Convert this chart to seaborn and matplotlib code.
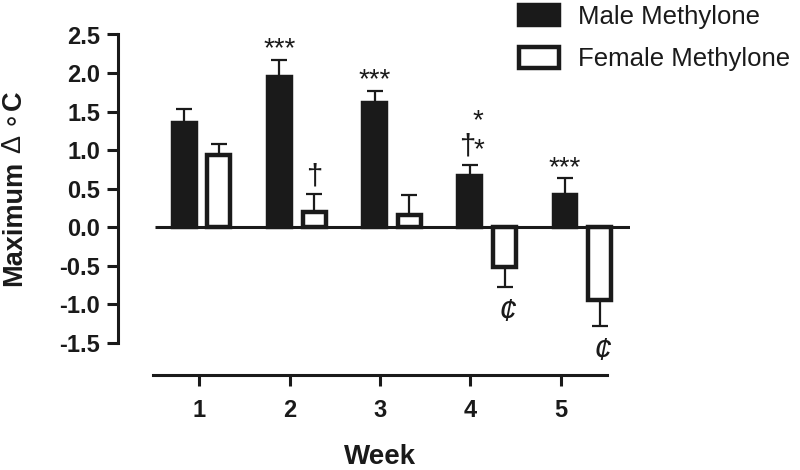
import numpy as np
import pandas as pd
import matplotlib
matplotlib.use("Agg")
import matplotlib.pyplot as plt
import seaborn as sns
from matplotlib.patches import Patch

weeks = ["1", "2", "3", "4", "5"]
groups = ["Male Methylone", "Female Methylone"]
male_mean = [1.35, 1.95, 1.61, 0.66, 0.42]
male_sem = [0.18, 0.22, 0.16, 0.15, 0.21]
female_mean = [0.94, 0.19, 0.16, -0.52, -0.95]
female_sem = [0.14, 0.24, 0.25, 0.26, 0.34]
# significance marks: (group, week index, text)
marks = [(0, 1, "***"), (0, 2, "***"), (0, 4, "***"),
         (1, 1, "\u2020"), (1, 3, "\u00a2"), (1, 4, "\u00a2")]

df = pd.DataFrame({
    "week": weeks * 2,
    "group": [groups[0]] * 5 + [groups[1]] * 5,
    "value": male_mean + female_mean,
})

sns.set_style("ticks")
plt.rcParams["font.family"] = ["Liberation Sans", "DejaVu Sans"]
ink = "#1a1a1a"

fig = plt.figure(figsize=(8, 4.7), dpi=100)
ax = fig.add_axes([118 / 800, 1 - 375 / 470, 512 / 800, 340.5 / 470])

lw = 3.2
sns.barplot(data=df, x="week", y="value", hue="group", hue_order=groups,
            palette={groups[0]: ink, groups[1]: "white"},
            edgecolor=ink, linewidth=lw, width=0.73, gap=0.34,
            errorbar=None, legend=False, ax=ax, zorder=3)

patches = ax.patches
sems = male_sem + female_sem
for p, e in zip(patches, sems):
    xc = p.get_x() + p.get_width() / 2
    h = p.get_y() + p.get_height()
    yerr = [[0], [e]] if h >= 0 else [[e], [0]]
    ax.errorbar([xc], [h], yerr=yerr, fmt="none", ecolor=ink,
                elinewidth=1.6, capsize=6, capthick=1.6, zorder=2)

for g, wi, txt in marks:
    p = patches[g * 5 + wi]
    xc = p.get_x() + p.get_width() / 2
    v = (male_mean if g == 0 else female_mean)[wi]
    e = (male_sem if g == 0 else female_sem)[wi]
    if txt == "***":
        ax.text(xc, v + e - 0.03, txt, ha="center", va="bottom", fontsize=20, color=ink)
    elif txt == "\u2020":
        ax.text(xc, v + e + 0.05, txt, ha="center", va="bottom", fontsize=21, color=ink)
    else:
        ax.text(xc + 0.03, v - e - 0.14, txt, ha="center", va="top", fontsize=23,
                color=ink, style="italic")

# week 4 male: dagger plus stacked asterisks
p = patches[3]
xc = p.get_x() + p.get_width() / 2
top = male_mean[3] + male_sem[3]
ax.text(xc - 0.03, top + 0.05, "\u2020", ha="center", va="bottom", fontsize=21, color=ink)
ax.text(xc + 0.1, top + 0.02, "*", ha="center", va="bottom", fontsize=20, color=ink)
ax.text(xc + 0.08, top + 0.4, "*", ha="center", va="bottom", fontsize=20, color=ink)

ax.hlines(0, -0.488, 4.5, color=ink, linewidth=2.2, zorder=4)

ax.set_xlim(-0.877, 4.5)
ax.set_ylim(-1.922, 2.5)
yt = np.arange(-1.5, 2.51, 0.5)
ax.set_yticks(yt)
ax.set_yticklabels([f"{t:.1f}" for t in yt])
# the printed week axis is slightly narrower than the bar spacing
ax.set_xticks(np.linspace(-0.023, 3.771, 5))
ax.set_xticklabels(weeks)
sns.despine(ax=ax)
ax.spines["left"].set_bounds(-1.5, 2.5)
ax.spines["bottom"].set_bounds(-0.509, 4.257)
for s in ["left", "bottom"]:
    ax.spines[s].set_linewidth(2.2)
    ax.spines[s].set_color(ink)
ax.tick_params(axis="both", direction="out", length=8, width=2.2, color=ink,
               labelsize=17, pad=5)
ax.tick_params(axis="x", pad=9)
for lab in ax.get_xticklabels() + ax.get_yticklabels():
    lab.set_fontweight("bold")
    lab.set_color(ink)
ax.set_xlabel("")
ax.set_ylabel("")

fig.text(380 / 800, 1 - 457 / 470, "Week", ha="center", va="center",
         fontsize=20, fontweight="bold", color=ink)
fig.text(21 / 800, 1 - 286 / 470, "Maximum", rotation=90, rotation_mode="anchor",
         ha="left", va="baseline", fontsize=19.5, fontweight="bold", color=ink)
fig.text(21 / 800, 1 - 153 / 470, "\u0394 \u2218", rotation=90, rotation_mode="anchor",
         ha="left", va="baseline", fontsize=19.5, color=ink)
fig.text(21 / 800, 1 - 110 / 470, "C", rotation=90, rotation_mode="anchor",
         ha="left", va="baseline", fontsize=19.5, fontweight="bold", color=ink)

handles = [Patch(facecolor=ink, edgecolor=ink, linewidth=lw, label=groups[0]),
           Patch(facecolor="white", edgecolor=ink, linewidth=lw, label=groups[1])]
fig.legend(handles=handles, loc="upper left", bbox_to_anchor=(519 / 800, 1 - 5 / 470),
           frameon=False, fontsize=18.5, handlelength=1.55, handleheight=0.85,
           handletextpad=0.75, labelspacing=0.7, borderpad=0, borderaxespad=0,
           labelcolor=ink)

fig.savefig("out.png", dpi=100, facecolor="white")
